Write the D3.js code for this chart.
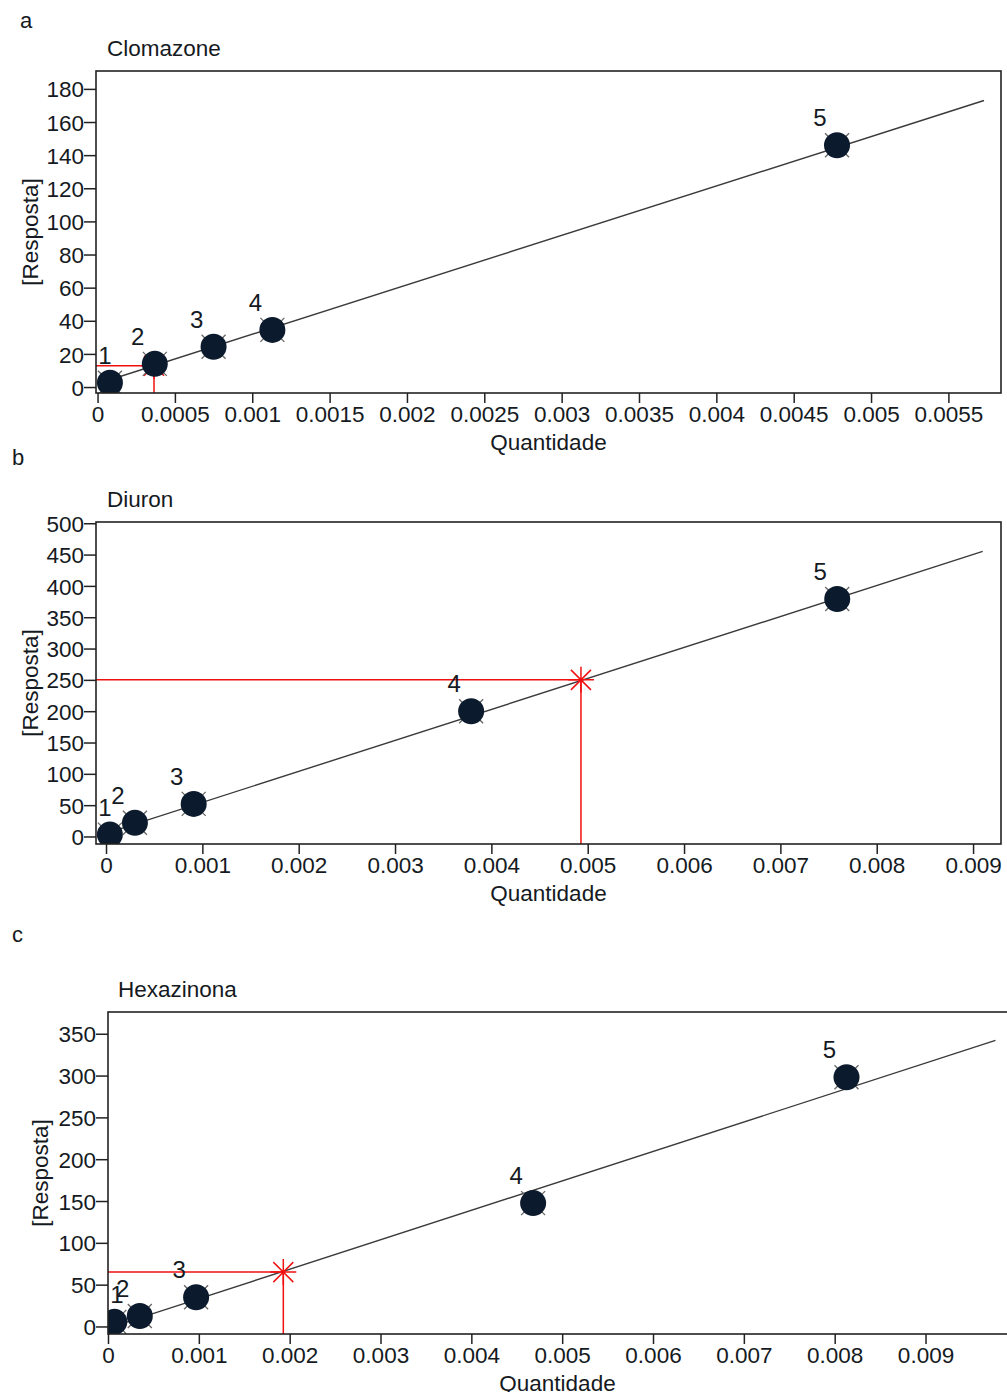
<!DOCTYPE html>
<html>
<head>
<meta charset="utf-8">
<script src="https://cdn.jsdelivr.net/npm/d3@7"></script>
<style>
  body { margin: 0; background: #fff; }
  text { font-family: "Liberation Sans", Arial, sans-serif; fill: #151a22; }
</style>
</head>
<body>
<div id="chart"></div>
<script>
// a - Clomazone
var clomX = [0.00008, 0.00037, 0.00075, 0.00113, 0.00478]
var clomY = [2.6, 14, 24.3, 34.5, 146]
var clomFitX = [0, 0.00573]
var clomFitY = [2, 173]
var clomRead = [0.000365, 12.8]
var clomXTicks = [0, 0.0005, 0.001, 0.0015, 0.002, 0.0025, 0.003, 0.0035, 0.004, 0.0045, 0.005, 0.0055]
var clomYTicks = [0, 20, 40, 60, 80, 100, 120, 140, 160, 180]

// b - Diuron
var diurX = [0.00004, 0.0003, 0.00091, 0.00379, 0.00759]
var diurY = [3, 21.8, 52, 200, 379]
var diurFitX = [0, 0.0091]
var diurFitY = [5, 455]
var diurRead = [0.00493, 250]
var diurXTicks = [0, 0.001, 0.002, 0.003, 0.004, 0.005, 0.006, 0.007, 0.008, 0.009]
var diurYTicks = [0, 50, 100, 150, 200, 250, 300, 350, 400, 450, 500]

// c - Hexazinona
var hexaX = [0.00007, 0.00035, 0.00097, 0.00468, 0.00813]
var hexaY = [5.5, 12.5, 35, 147.5, 298]
var hexaFitX = [0, 0.00977]
var hexaFitY = [-2, 342]
var hexaRead = [0.00193, 65]
var hexaXTicks = [0, 0.001, 0.002, 0.003, 0.004, 0.005, 0.006, 0.007, 0.008, 0.009]
var hexaYTicks = [0, 50, 100, 150, 200, 250, 300, 350]

var pointLabels = ["1", "2", "3", "4", "5"]

var svg = d3.select("#chart").append("svg")
    .attr("width", 1007)
    .attr("height", 1392)

var fontSize = "22.5px"

function draw_panel(cfg){
  var g = svg.append("g")

  var x = d3.scaleLinear().domain(cfg.xDomain).range([cfg.left, cfg.right])
  var y = d3.scaleLinear().domain(cfg.yDomain).range([cfg.bottom, cfg.top])

  // panel letter + title
  g.append("text").attr("x", cfg.letterX).attr("y", cfg.letterY)
      .style("font-size", "22px").text(cfg.letter)
  g.append("text").attr("x", cfg.titleX).attr("y", cfg.top - 15)
      .style("font-size", fontSize).text(cfg.title)

  // axes
  var xAxis = g.append("g")
      .attr("transform", "translate(0," + cfg.bottom + ")")
      .call(d3.axisBottom(x).tickValues(cfg.xTicks).tickSize(10).tickPadding(3)
        .tickFormat(function(d){ return String(+d.toFixed(5)) }))
  var yAxis = g.append("g")
      .attr("transform", "translate(" + cfg.left + ",0)")
      .call(d3.axisLeft(y).tickValues(cfg.yTicks).tickSize(12).tickPadding(0))
  ;[xAxis, yAxis].forEach(function(a){
    a.select(".domain").remove()
    a.selectAll("line").attr("stroke", "#222").attr("stroke-width", 1.5)
    a.selectAll("text").style("font-size", fontSize).attr("fill", "#151a22")
  })
  yAxis.selectAll("text").attr("dy", "0.36em")

  // axis titles
  g.append("text")
      .attr("x", (cfg.left + Math.min(cfg.right, 1007)) / 2)
      .attr("y", cfg.bottom + 57)
      .attr("text-anchor", "middle")
      .style("font-size", fontSize)
      .text("Quantidade")
  g.append("text")
      .attr("transform", "translate(" + cfg.yLabelX + "," + (cfg.top + cfg.bottom) / 2 + ") rotate(-90)")
      .attr("text-anchor", "middle")
      .style("font-size", fontSize)
      .text("[Resposta]")

  // clip region
  var clipId = "clip_" + cfg.letter
  g.append("clipPath").attr("id", clipId).append("rect")
      .attr("x", cfg.left).attr("y", cfg.top)
      .attr("width", cfg.right - cfg.left).attr("height", cfg.bottom - cfg.top)
  var plot = g.append("g").attr("clip-path", "url(#" + clipId + ")")

  // fitted line
  plot.append("line")
      .attr("x1", x(cfg.fitX[0])).attr("y1", y(cfg.fitY[0]))
      .attr("x2", x(cfg.fitX[1])).attr("y2", y(cfg.fitY[1]))
      .attr("stroke", "#3a3a3a").attr("stroke-width", 1.4)

  // red read-off lines + star
  var rx = x(cfg.read[0]), ry = y(cfg.read[1])
  plot.append("line").attr("x1", cfg.left).attr("x2", rx).attr("y1", ry).attr("y2", ry)
      .attr("stroke", "#f01010").attr("stroke-width", 1.5)
  plot.append("line").attr("x1", rx).attr("x2", rx).attr("y1", ry).attr("y2", cfg.bottom)
      .attr("stroke", "#f01010").attr("stroke-width", 1.5)
  var s = 13, d = 10
  plot.append("path")
      .attr("d", "M" + (rx - d) + "," + (ry - d) + "L" + (rx + d) + "," + (ry + d) +
                 "M" + (rx - d) + "," + (ry + d) + "L" + (rx + d) + "," + (ry - d) +
                 "M" + rx + "," + (ry - s) + "L" + rx + "," + (ry + s) +
                 "M" + (rx - s) + "," + ry + "L" + (rx + s) + "," + ry)
      .attr("stroke", "#f01010").attr("stroke-width", 1.5).attr("fill", "none")

  // points
  var pts = cfg.xs.map(function(v, i){ return {x: v, y: cfg.ys[i], label: pointLabels[i]} })
  var pg = plot.selectAll(".pt").data(pts).enter().append("g")
      .attr("transform", function(p){ return "translate(" + x(p.x) + "," + y(p.y) + ")" })
  pg.append("path")
      .attr("d", "M-12,-12L12,12M-12,12L12,-12")
      .attr("stroke", "#666").attr("stroke-width", 1.3)
  pg.append("circle").attr("r", 13).attr("fill", "#0b1a2c")

  g.selectAll(".lbl").data(pts).enter().append("text")
      .attr("x", function(p){ return Math.max(x(p.x) - 17, cfg.left + 9) })
      .attr("y", function(p){ return y(p.y) - 19 })
      .attr("text-anchor", "middle")
      .style("font-size", "24px")
      .text(function(p){ return p.label })

  // frame
  g.append("rect")
      .attr("x", cfg.left).attr("y", cfg.top)
      .attr("width", cfg.right - cfg.left).attr("height", cfg.bottom - cfg.top)
      .attr("fill", "none").attr("stroke", "#222").attr("stroke-width", 1.6)
}

draw_panel({letter: "a", letterX: 20, letterY: 28, title: "Clomazone", titleX: 107,
  left: 96, right: 1001, top: 71, bottom: 393, yLabelX: 38,
  xDomain: [-0.00001, 0.00584], yDomain: [-3.6, 190.8],
  xTicks: clomXTicks, yTicks: clomYTicks,
  xs: clomX, ys: clomY, fitX: clomFitX, fitY: clomFitY, read: clomRead})

draw_panel({letter: "b", letterX: 12, letterY: 465, title: "Diuron", titleX: 107,
  left: 96, right: 1001, top: 522, bottom: 844, yLabelX: 38,
  xDomain: [-0.000104, 0.00929], yDomain: [-12, 502],
  xTicks: diurXTicks, yTicks: diurYTicks,
  xs: diurX, ys: diurY, fitX: diurFitX, fitY: diurFitY, read: diurRead})

draw_panel({letter: "c", letterX: 12, letterY: 942, title: "Hexazinona", titleX: 118,
  left: 108, right: 1010, top: 1012, bottom: 1334, yLabelX: 48,
  xDomain: [0, 0.00993], yDomain: [-9, 376],
  xTicks: hexaXTicks, yTicks: hexaYTicks,
  xs: hexaX, ys: hexaY, fitX: hexaFitX, fitY: hexaFitY, read: hexaRead})
</script>
</body>
</html>
